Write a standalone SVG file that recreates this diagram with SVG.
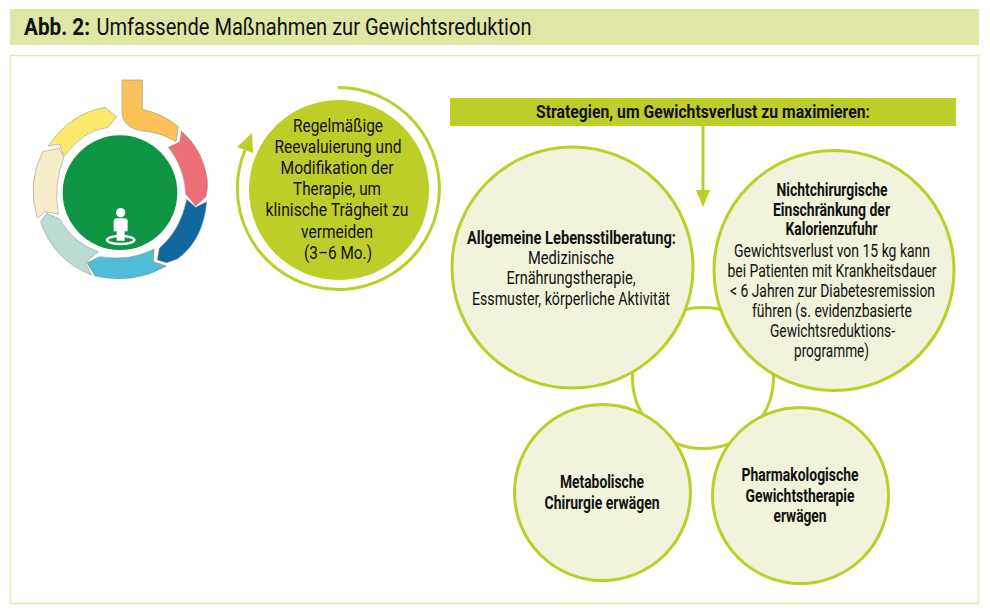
<svg xmlns="http://www.w3.org/2000/svg" width="990" height="613" viewBox="0 0 990 613">
<style>
text{font-family:Roboto,"Liberation Sans",sans-serif;fill:#111;text-anchor:middle;font-size:17.5px}
.b{font-weight:700}
.c{fill:#f1f3dc;stroke:#bcce27;stroke-width:3}
.l{fill:none;stroke:#bcce27;stroke-width:3}
.h{fill:#bcce27}
.s{stroke:#8e8e86;stroke-width:1.6;stroke-linejoin:round}
.t{font-size:23px;text-anchor:start}
.g{font-size:19px}
.m{font-size:19px}
</style>
<rect width="990" height="613" fill="#fff"/>
<g id="header">
<rect x="10" y="9" width="969" height="36" fill="#dfe6a6"/>
<text class="t b" x="24" y="35" textLength="66" lengthAdjust="spacingAndGlyphs">Abb. 2:</text>
<text class="t" x="96.5" y="35" textLength="435" lengthAdjust="spacingAndGlyphs">Umfassende Maßnahmen zur Gewichtsreduktion</text>
</g>
<rect id="frame" x="10.5" y="55.5" width="968" height="548" fill="none" stroke="#e3e9b0" stroke-width="1.5"/>
<g id="cycle" transform="translate(20,70) scale(.33333)">
<path class="s" fill="#fcc159" d="M306,30L367,30L367,118Q430,132 475,170L468,215Q425,190 385,185Q310,180 306,130Z"/>
<path class="s" fill="#ee6f78" d="M484,183Q550,240 562,330Q564,355 558,380L527,408L497,372Q495,295 445,232L480,215Z"/>
<path class="s" fill="#10689f" d="M500,388L527,412L560,395Q550,510 472,567L440,578L412,570L418,535Q482,480 500,388Z"/>
<path class="s" fill="#4fbcd8" d="M200,578L240,560Q330,575 402,537L400,575L440,588Q340,645 225,618Z"/>
<path class="s" fill="#bcdcd3" d="M62,455L80,430L120,448Q160,520 235,545L195,578L215,615Q100,570 62,455Z"/>
<path class="s" fill="#f6edca" d="M68,245L118,235L132,262Q100,340 115,432L75,425L52,445Q20,340 68,245Z"/>
<path class="s" fill="#fbe96f" d="M85,228Q150,130 255,112L290,140L265,172Q190,180 133,258L118,222Z"/>
<circle cx="300" cy="368" r="172" fill="#0f9444"/>
<circle cx="302" cy="428" r="14" fill="#fff"/>
<path fill="#fff" d="M290,445H314Q323,445 323,454V484H314V512H290V484H281V454Q281,445 290,445Z"/>
<ellipse cx="302" cy="510" rx="41" ry="12" fill="none" stroke="#fff" stroke-width="7"/>
</g>
<g id="connectors">
<circle cx="703" cy="378" r="70.5" class="l"/>
<path class="l" d="M338,87.5A101,101 0 1 1 245,150"/>
<polygon class="h" points="252,133 237,147 253,153"/>
<path class="l" d="M703,126V192"/>
<polygon class="h" points="696,190 710,190 703,207"/>
</g>
<g id="review">
<circle cx="339" cy="190" r="90" fill="#bcce27"/>
<text class="g" x="338" y="132" textLength="90" lengthAdjust="spacingAndGlyphs">Regelmäßige</text>
<text class="g" x="338" y="153" textLength="127" lengthAdjust="spacingAndGlyphs">Reevaluierung und</text>
<text class="g" x="337" y="174" textLength="113" lengthAdjust="spacingAndGlyphs">Modifikation der</text>
<text class="g" x="337" y="195" textLength="88" lengthAdjust="spacingAndGlyphs">Therapie, um</text>
<text class="g" x="337" y="216" textLength="143" lengthAdjust="spacingAndGlyphs">klinische Trägheit zu</text>
<text class="g" x="337" y="238" textLength="72" lengthAdjust="spacingAndGlyphs">vermeiden</text>
<text class="g" x="338" y="259" textLength="68" lengthAdjust="spacingAndGlyphs">(3–6 Mo.)</text>
</g>
<g id="strategies">
<rect x="450" y="98" width="506" height="28" fill="#bcce27"/>
<text class="b m" x="703" y="118" textLength="334" lengthAdjust="spacingAndGlyphs">Strategien, um Gewichtsverlust zu maximieren:</text>
</g>
<g id="lifestyle">
<circle class="c" cx="572.5" cy="267.5" r="120.5"/>
<text class="b" x="571.5" y="244" textLength="209" lengthAdjust="spacingAndGlyphs">Allgemeine Lebensstilberatung:</text>
<text x="571" y="264" textLength="86" lengthAdjust="spacingAndGlyphs">Medizinische</text>
<text x="571" y="284" textLength="129" lengthAdjust="spacingAndGlyphs">Ernährungstherapie,</text>
<text x="571" y="305" textLength="198" lengthAdjust="spacingAndGlyphs">Essmuster, körperliche Aktivität</text>
</g>
<g id="caloric">
<circle class="c" cx="834" cy="270.5" r="120"/>
<text class="b" x="832" y="196" textLength="111" lengthAdjust="spacingAndGlyphs">Nichtchirurgische</text>
<text class="b" x="831.5" y="216" textLength="117" lengthAdjust="spacingAndGlyphs">Einschränkung der</text>
<text class="b" x="831.5" y="235" textLength="92" lengthAdjust="spacingAndGlyphs">Kalorienzufuhr</text>
<text x="832" y="257" textLength="196" lengthAdjust="spacingAndGlyphs">Gewichtsverlust von 15 kg kann</text>
<text x="832" y="277" textLength="209" lengthAdjust="spacingAndGlyphs">bei Patienten mit Krankheitsdauer</text>
<text x="832.5" y="297" textLength="205" lengthAdjust="spacingAndGlyphs">&lt; 6 Jahren zur Diabetesremission</text>
<text x="832" y="317" textLength="160" lengthAdjust="spacingAndGlyphs">führen (s. evidenzbasierte</text>
<text x="832.5" y="337" textLength="125" lengthAdjust="spacingAndGlyphs">Gewichtsreduktions-</text>
<text x="831.5" y="357" textLength="75" lengthAdjust="spacingAndGlyphs">programme)</text>
</g>
<g id="surgery">
<circle class="c" cx="602.5" cy="492.5" r="88"/>
<text class="b" x="602" y="488" textLength="84" lengthAdjust="spacingAndGlyphs">Metabolische</text>
<text class="b" x="602" y="509" textLength="115" lengthAdjust="spacingAndGlyphs">Chirurgie erwägen</text>
</g>
<g id="pharma">
<circle class="c" cx="800.5" cy="495.5" r="88"/>
<text class="b" x="800" y="481" textLength="117" lengthAdjust="spacingAndGlyphs">Pharmakologische</text>
<text class="b" x="800" y="502" textLength="109" lengthAdjust="spacingAndGlyphs">Gewichtstherapie</text>
<text class="b" x="800" y="522" textLength="53" lengthAdjust="spacingAndGlyphs">erwägen</text>
</g>
</svg>
